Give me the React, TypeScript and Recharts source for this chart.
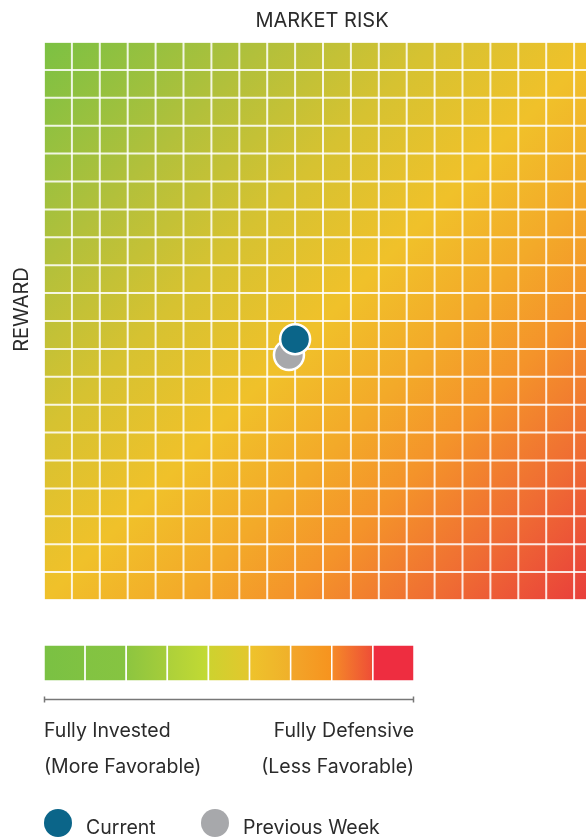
import { ScatterChart, Scatter, XAxis, YAxis, CartesianGrid, BarChart, Bar } from "recharts";

// 20 x 20 risk / reward grid
const gridTicks = [0, 1, 2, 3, 4, 5, 6, 7, 8, 9, 10, 11, 12, 13, 14, 15, 16, 17, 18, 19, 20];

const currentWeek = [{ risk: 9.0, reward: 9.35 }];
const previousWeek = [{ risk: 8.78, reward: 8.78 }];

// diagonal heat colours, top-left -> bottom-right
const heatOffsets = [0, 0.2, 0.35, 0.5, 0.62, 0.72, 0.85, 1];
const heatColors = ["#7bc143", "#b2c03b", "#d6c231", "#f0c12a", "#f3aa29", "#f4932a", "#ef6c33", "#e8393c"];

// scale bar under the grid
const scaleKeys = ["s1", "s2", "s3", "s4", "s5", "s6", "s7", "s8", "s9"];
const scaleValues = [1, 1, 1, 1, 1, 1, 1, 1, 1];
const scaleFrom = ["#7ac143", "#82c342", "#8cc540", "#acd03a", "#cdd22f", "#eec32c", "#f2a62a", "#f58b28", "#ee2d40"];
const scaleTo = ["#80c242", "#86c441", "#a6cd3a", "#c3da33", "#e3c72d", "#f0b02a", "#f7931e", "#ee4d37", "#ee2d40"];

const scaleRow: Record<string, number | string> = { name: "scale" };
scaleKeys.forEach((k, i) => {
  scaleRow[k] = scaleValues[i];
});

const font = "Inter, 'Noto Sans', sans-serif";
const textColor = "#2b2b2b";
const blue = "#0b6589";
const grey = "#a7a8ab";

const dot = (fill: string) => (props: any) =>
  <circle cx={props.cx} cy={props.cy} r={15} fill={fill} stroke="#fff" strokeWidth={2.5} />;

export default function App() {
  return (
    <div style={{ position: "fixed", left: 8, top: 8, width: 578, height: 830, overflow: "hidden", fontFamily: font }}>
      <div style={{ position: "absolute", left: 0, top: 0 }}>
        <ScatterChart width={620} height={600} margin={{ top: 34, right: 26, bottom: 8, left: 36 }}>
          <defs>
            <linearGradient id="riskGrad" x1="0" y1="0" x2="1" y2="1">
              {heatOffsets.map((o, i) => (
                <stop key={i} offset={o} stopColor={heatColors[i]} />
              ))}
            </linearGradient>
          </defs>
          <CartesianGrid fill="url(#riskGrad)" fillOpacity={1} stroke="#ffffff" strokeOpacity={0.85} strokeWidth={2} />
          <XAxis type="number" dataKey="risk" domain={[0, 20]} ticks={gridTicks} hide />
          <YAxis type="number" dataKey="reward" domain={[0, 20]} ticks={gridTicks} hide />
          <Scatter name="Previous Week" data={previousWeek} fill={grey} shape={dot(grey)} isAnimationActive={false} />
          <Scatter name="Current" data={currentWeek} fill={blue} shape={dot(blue)} isAnimationActive={false} />
          <text x={314} y={18.7} textAnchor="middle" fontSize={20} fill={textColor} fontFamily={font}>
            MARKET RISK
          </text>
          <text x={20.3} y={301.5} textAnchor="middle" fontSize={20} fill={textColor} fontFamily={font} transform="rotate(-90 20.3 301.5)">
            REWARD
          </text>
        </ScatterChart>
      </div>

      <div style={{ position: "absolute", left: 36, top: 637 }}>
        <BarChart width={370} height={36} data={[scaleRow]} layout="vertical" margin={{ top: 0, right: 0, bottom: 0, left: 0 }} barCategoryGap={0}>
          <defs>
            {scaleKeys.map((k, i) => (
              <linearGradient key={k} id={`seg-${k}`} x1="0" y1="0" x2="1" y2="0">
                <stop offset="0" stopColor={scaleFrom[i]} />
                <stop offset="1" stopColor={scaleTo[i]} />
              </linearGradient>
            ))}
          </defs>
          <XAxis type="number" domain={[0, 9]} hide />
          <YAxis type="category" dataKey="name" hide />
          {scaleKeys.map((k) => (
            <Bar key={k} dataKey={k} stackId="scale" fill={`url(#seg-${k})`} stroke="#ffffff" strokeWidth={1.5} isAnimationActive={false} />
          ))}
        </BarChart>
      </div>

      <svg style={{ position: "absolute", left: 0, top: 680 }} width={578} height={150}>
        <g stroke="#777" strokeWidth={1.5}>
          <line x1={36.5} y1={11.5} x2={405.5} y2={11.5} />
          <line x1={36.5} y1={8.5} x2={36.5} y2={14.5} />
          <line x1={405.5} y1={8.5} x2={405.5} y2={14.5} />
        </g>
        <g fontSize={19.5} fill={textColor} fontFamily={font}>
          <text x={36} y={48.7}>Fully Invested</text>
          <text x={406} y={48.7} textAnchor="end">Fully Defensive</text>
          <text x={36} y={85.3}>(More Favorable)</text>
          <text x={406} y={85.3} textAnchor="end">(Less Favorable)</text>
          <circle cx={50} cy={135} r={14} fill={blue} />
          <text x={78} y={146}>Current</text>
          <circle cx={207} cy={135} r={14} fill={grey} />
          <text x={235} y={146}>Previous Week</text>
        </g>
      </svg>
    </div>
  );
}
